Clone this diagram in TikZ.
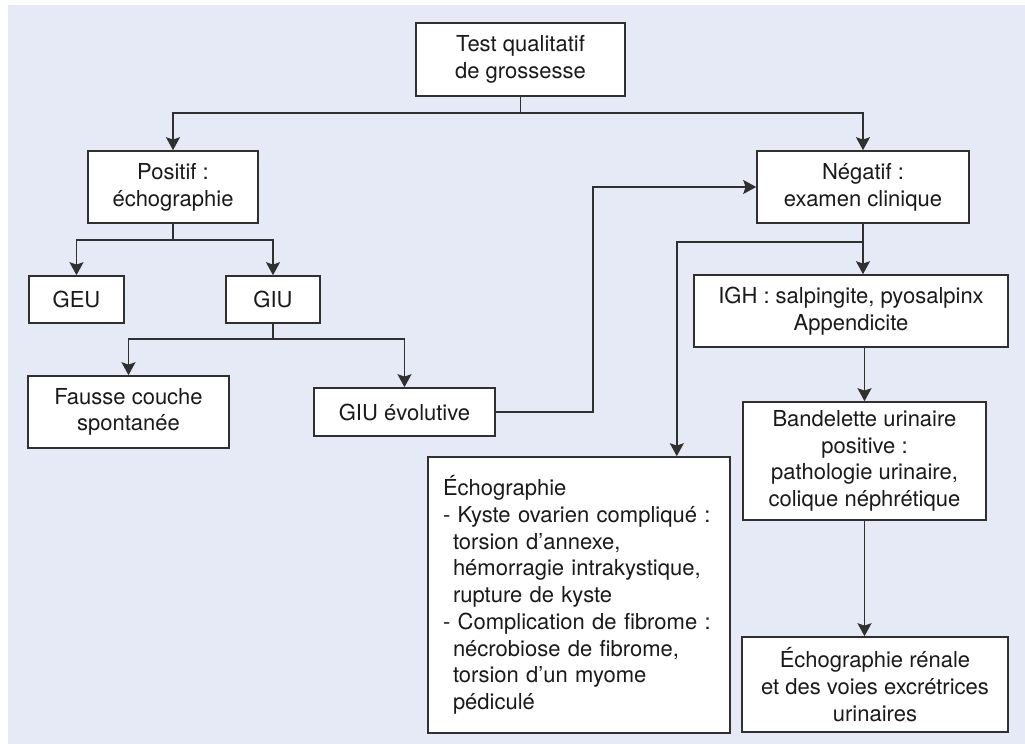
\documentclass[tikz,border=0pt]{standalone}
\usepackage{fontspec}
\setmainfont{TeX Gyre Heros}
\usetikzlibrary{arrows.meta}
\definecolor{bgblue}{HTML}{E6E9F6}
\definecolor{linegray}{HTML}{303030}
\definecolor{txtgray}{HTML}{1A1A1A}
\begin{document}
\begin{tikzpicture}[x=0.5pt,y=-0.5pt,
  every node/.style={font=\fontsize{11pt}{13.35pt}\selectfont, text=txtgray},
  box/.style={draw=linegray, line width=0.8pt, fill=white, align=center, inner sep=0pt},
  conn/.style={draw=linegray, line width=0.7pt},
  arr/.style={conn, -{Stealth[length=6.5pt,width=7pt,inset=1.2pt]}}]
\useasboundingbox (0,0) rectangle (1025,744);
\fill[bgblue] (8,5) rectangle (1025,744);

\node[box, minimum width=104.5pt, minimum height=36.5pt] (test) at (520.5,59.5) {Test qualitatif\\de grossesse};
\node[box, minimum width=85pt, minimum height=36pt] (pos) at (173,187) {Positif :\\échographie};
\node[box, minimum width=106pt, minimum height=36pt] (neg) at (863,187) {Négatif :\\examen clinique};
\node[box, minimum width=47.5pt, minimum height=23.5pt] (geu) at (76.5,299.5) {GEU};
\node[box, minimum width=47pt, minimum height=23.5pt] (giu) at (273,299.5) {GIU};
\node[box, minimum width=100.5pt, minimum height=36pt] (fausse) at (128.5,412) {Fausse couche\\spontanée};
\node[box, minimum width=90.5pt, minimum height=24pt] (giuev) at (404.5,412) {GIU évolutive};
\node[box, minimum width=157pt, minimum height=36pt] (igh) at (851,311) {IGH : salpingite, pyosalpinx\\Appendicite};
\node[box, minimum width=121.5pt, minimum height=59pt] (band) at (864.5,461) {Bandelette urinaire\\positive :\\pathologie urinaire,\\colique néphrétique};
\node[box, align=left, text width=136pt, inner xsep=7.5pt, minimum height=138pt] (echo) at (579,595) {Échographie\\
- Kyste ovarien compliqué :\\
\hspace*{5pt}torsion d’annexe,\\
\hspace*{5pt}hémorragie intrakystique,\\
\hspace*{5pt}rupture de kyste\\
- Complication de fibrome :\\
\hspace*{5pt}nécrobiose de fibrome,\\
\hspace*{5pt}torsion d’un myome\\
\hspace*{5pt}pédiculé};
\node[box, minimum width=133pt, minimum height=47.5pt] (renale) at (875,684.5) {Échographie rénale\\et des voies excrétrices\\urinaires};

% test -> positif / negatif
\draw[conn] (test.south) -- ++(0,16) coordinate (t1);
\draw[arr] (t1) -| (pos.north);
\draw[arr] (t1) -| (neg.north);
% positif -> GEU / GIU
\draw[conn] (pos.south) -- ++(0,16) coordinate (p1);
\draw[arr] (p1) -| (geu.north);
\draw[arr] (p1) -| (giu.north);
% GIU -> fausse couche / GIU evolutive
\draw[conn] (giu.south) -- ++(0,15) coordinate (g1);
\draw[arr] (g1) -| (fausse.north);
\draw[arr] (g1) -| (giuev.north);
% GIU evolutive -> negatif
\draw[arr] (giuev.east) -- ++(97,0) |- (neg.west);
% negatif -> IGH and echographie
\draw[arr] (neg.south) -- (neg.south |- igh.north);
\coordinate (n1) at ([yshift=-9pt]neg.south);
\draw[arr] (n1) -| ([xshift=-27pt]echo.north east);
% IGH -> bandelette -> renale
\draw[arr] (band.north |- igh.south) -- (band.north);
\draw[arr] (band.south) -- (band.south |- renale.north);
\end{tikzpicture}
\end{document}
